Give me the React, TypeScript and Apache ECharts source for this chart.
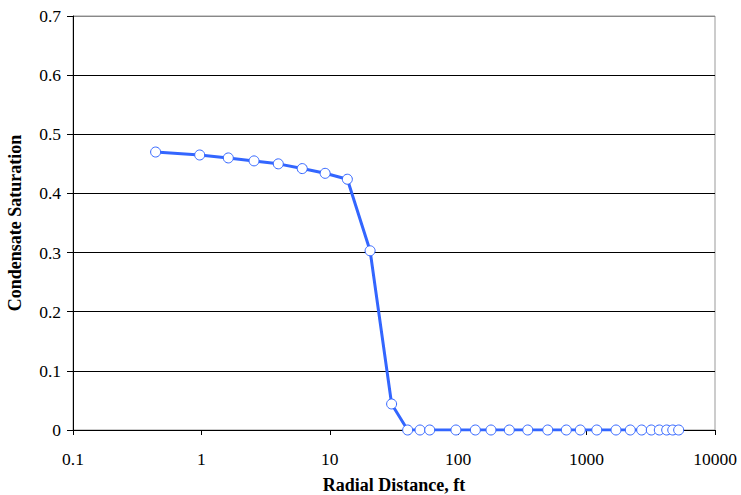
import React, { useEffect, useRef } from "react";
import * as echarts from "echarts";

const radialDistance = [
  0.44, 0.97, 1.62, 2.57, 3.97, 6.1, 9.2, 13.7, 20.6, 30.3, 40.4, 50.4, 60,
  96, 136, 180, 250, 348, 498, 695, 893, 1200, 1694, 2189, 2685, 3190, 3683,
  4205, 4688, 5214,
];
const condensateSaturation = [
  0.47, 0.465, 0.46, 0.455, 0.45, 0.442, 0.434, 0.424, 0.303, 0.044, 0, 0, 0,
  0, 0, 0, 0, 0, 0, 0, 0, 0, 0, 0, 0, 0, 0, 0, 0, 0,
];
const yTicks = [0, 0.1, 0.2, 0.3, 0.4, 0.5, 0.6, 0.7];

export default function App() {
  const ref = useRef<HTMLDivElement>(null);
  useEffect(() => {
    if (!ref.current) return;
    const chart = echarts.init(ref.current, null, { renderer: "svg" });
    const font = "'Liberation Serif', 'Times New Roman', serif";
    const gridColors = yTicks.map((v, i) => (i === yTicks.length - 1 ? "#888888" : "#000000"));
    chart.setOption({
      animation: false,
      backgroundColor: "#ffffff",
      grid: {
        left: 73,
        right: 26,
        top: 16,
        bottom: 65,
        show: true,
        borderColor: "#999999",
        borderWidth: 1,
        containLabel: false,
        outerBoundsMode: "none",
      },
      xAxis: {
        type: "log",
        logBase: 10,
        min: 0.1,
        max: 10000,
        name: "Radial Distance, ft",
        nameLocation: "middle",
        nameGap: 46,
        nameTextStyle: { fontFamily: font, fontWeight: "bold", fontSize: 18, color: "#000" },
        axisLine: { show: true, lineStyle: { color: "#000", width: 1 } },
        axisTick: { show: true, inside: false, length: 5, lineStyle: { color: "#000" } },
        minorTick: { show: false },
        splitLine: { show: false },
        axisLabel: {
          fontFamily: font,
          fontSize: 17.5,
          color: "#000",
          margin: 20,
          formatter: (v: number) => String(parseFloat(v.toPrecision(6))),
        },
      },
      yAxis: {
        type: "value",
        min: 0,
        max: 0.7,
        interval: 0.1,
        name: "Condensate Saturation",
        nameLocation: "middle",
        nameGap: 49,
        nameTextStyle: { fontFamily: font, fontWeight: "bold", fontSize: 18, color: "#000" },
        axisLine: { show: true, lineStyle: { color: "#000", width: 1 } },
        axisTick: { show: true, inside: false, length: 6, lineStyle: { color: "#000" } },
        splitLine: { show: true, lineStyle: { color: gridColors, width: 1 } },
        axisLabel: {
          fontFamily: font,
          fontSize: 17.5,
          color: "#000",
          margin: 12,
          formatter: (v: number) => String(parseFloat(v.toFixed(1))),
        },
      },
      series: [
        {
          type: "line",
          data: radialDistance.map((x, i) => [x, condensateSaturation[i]]),
          symbol: "circle",
          symbolSize: 10,
          showAllSymbol: true,
          lineStyle: { color: "#3366ff", width: 3 },
          itemStyle: { color: "#ffffff", borderColor: "#3366ff", borderWidth: 1 },
          z: 3,
        },
      ],
    });
    return () => chart.dispose();
  }, []);
  return <div ref={ref} style={{ width: 741, height: 495, position: "absolute", left: 0, top: 0 }} />;
}
